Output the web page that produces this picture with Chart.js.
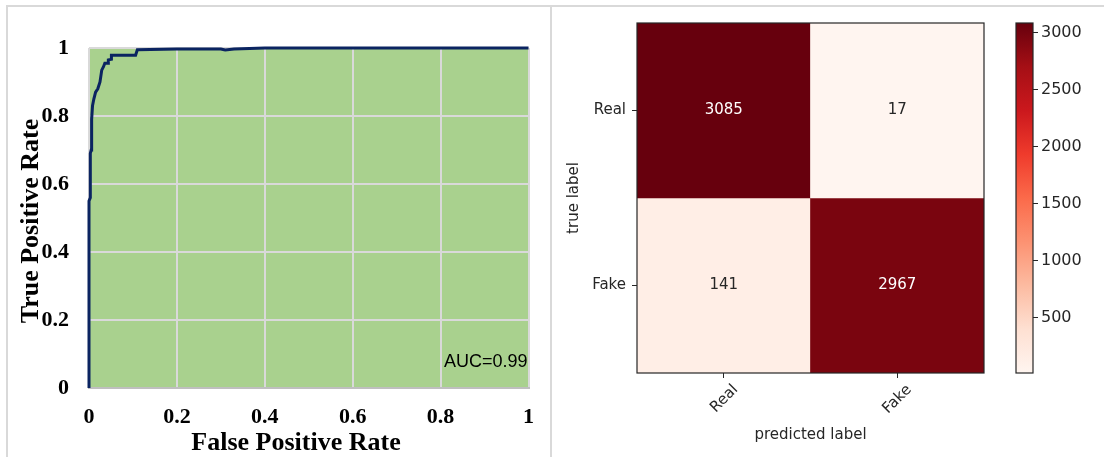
<!DOCTYPE html>
<html>
<head>
<meta charset="utf-8">
<script src="https://cdn.jsdelivr.net/npm/chart.js@4/dist/chart.umd.min.js"></script>
<style>
  html, body { margin: 0; padding: 0; background: #fff; }
  body { width: 1104px; height: 457px; position: relative; overflow: hidden; }
  .box { position: absolute; }
  .rule { position: absolute; background: #d9d9d9; }
</style>
</head>
<body>
<div class="rule" style="left:6px;top:5px;width:1098px;height:2px"></div>
<div class="rule" style="left:6px;top:5px;width:2px;height:452px"></div>
<div class="rule" style="left:550px;top:5px;width:2px;height:452px"></div>
<div class="box" style="left:8px;top:7px;width:542px;height:450px"><canvas id="roc"></canvas></div>
<div class="box" style="left:552px;top:7px;width:448px;height:450px"><canvas id="cm"></canvas></div>
<div class="box" style="left:1000px;top:7px;width:104px;height:450px"><canvas id="cbar"></canvas></div>

<script>
// ROC curve (false positive rate vs true positive rate)
const rocFpr = [0, 0, 0.003, 0.003, 0.005, 0.006, 0.008, 0.011, 0.015, 0.02, 0.025, 0.029, 0.033, 0.036, 0.044, 0.044, 0.051, 0.051, 0.106, 0.11, 0.2, 0.3, 0.31, 0.33, 0.4, 1];
const rocTpr = [0, 0.55, 0.56, 0.69, 0.70, 0.79, 0.83, 0.85, 0.87, 0.88, 0.90, 0.935, 0.945, 0.955, 0.955, 0.965, 0.967, 0.979, 0.979, 0.995, 0.997, 0.997, 0.994, 0.997, 1, 1];
const rocTicks = [0, 0.2, 0.4, 0.6, 0.8, 1];
const rocTickLabels = ['0', '0.2', '0.4', '0.6', '0.8', '1'];
const rocXTitle = 'False Positive Rate';
const rocYTitle = 'True Positive Rate';
const aucText = 'AUC=0.99';

// Confusion matrix: rows = true label, columns = predicted label
const classLabels = ['Real', 'Fake'];
const realRow = [3085, 17];
const fakeRow = [141, 2967];
const colorbarTicks = [500, 1000, 1500, 2000, 2500, 3000];
const cmXTitle = 'predicted label';
const cmYTitle = 'true label';

// matplotlib "Reds" colormap stops
const redsStops = ['#fff5f0', '#fee0d2', '#fcbba1', '#fc9272', '#fb6a4a', '#ef3b2c', '#cb181d', '#a50f15', '#67000d'];

const matrix = [realRow, fakeRow];
const allCounts = matrix.flat();
const vMin = Math.min(...allCounts);
const vMax = Math.max(...allCounts);

function hexToRgb(h) {
  const n = parseInt(h.slice(1), 16);
  return [(n >> 16) & 255, (n >> 8) & 255, n & 255];
}
function redsColor(v) {
  const t = Math.max(0, Math.min(1, (v - vMin) / (vMax - vMin)));
  const pos = t * (redsStops.length - 1);
  const i = Math.min(Math.floor(pos), redsStops.length - 2);
  const f = pos - i;
  const a = hexToRgb(redsStops[i]), b = hexToRgb(redsStops[i + 1]);
  const c = a.map((x, k) => Math.round(x + (b[k] - x) * f));
  return `rgb(${c[0]},${c[1]},${c[2]})`;
}

const common = {
  responsive: true,
  maintainAspectRatio: false,
  animation: false,
  events: [],
};
const noLegend = { legend: { display: false }, tooltip: { enabled: false } };

// ---------- ROC ----------
const serifTick = { family: 'Liberation Serif', size: 22, weight: 'bold' };

const plotFill = {
  id: 'plotFill',
  beforeDraw(chart) {
    const { ctx, chartArea: a } = chart;
    ctx.save();
    ctx.fillStyle = '#a9d18e';
    ctx.fillRect(a.left, a.top, a.right - a.left, a.bottom - a.top);
    ctx.restore();
  }
};

const rocText = {
  id: 'rocText',
  afterDraw(chart) {
    const { ctx, chartArea: a } = chart;
    ctx.save();
    ctx.fillStyle = '#000';
    ctx.font = 'bold 26px "Liberation Serif"';
    ctx.textAlign = 'center';
    ctx.textBaseline = 'alphabetic';
    ctx.fillText(rocXTitle, a.left + 207, a.bottom + 62);
    ctx.translate(30, a.top + 173);
    ctx.rotate(-Math.PI / 2);
    ctx.fillText(rocYTitle, 0, 0);
    ctx.restore();

    ctx.save();
    ctx.fillStyle = '#000';
    ctx.font = '18px "Liberation Sans"';
    ctx.textAlign = 'right';
    ctx.textBaseline = 'alphabetic';
    ctx.fillText(aucText, a.right - 1, a.bottom - 21);
    ctx.restore();
  }
};

new Chart(document.getElementById('roc'), {
  type: 'scatter',
  data: {
    datasets: [{
      data: rocFpr.map((x, i) => ({ x, y: rocTpr[i] })),
      showLine: true,
      borderColor: '#0b2461',
      borderWidth: 3,
      pointRadius: 0,
      tension: 0,
      clip: false,
    }]
  },
  options: {
    ...common,
    layout: { autoPadding: false, padding: { top: 41, right: 20, left: 0, bottom: 0 } },
    plugins: noLegend,
    scales: {
      x: {
        type: 'linear', min: 0, max: 1,
        afterBuildTicks: s => { s.ticks = rocTicks.map(v => ({ value: v })); },
        afterFit: s => { s.height = 69; },
        ticks: {
          callback: (v, i) => rocTickLabels[i],
          font: serifTick, color: '#000', padding: 16, maxRotation: 0, autoSkip: false,
        },
        grid: { color: '#d9d9d9', lineWidth: 2, drawTicks: false },
        border: { color: '#bfbfbf', width: 2 },
      },
      y: {
        type: 'linear', min: 0, max: 1,
        afterBuildTicks: s => { s.ticks = rocTicks.map(v => ({ value: v })); },
        afterFit: s => { s.width = 81; },
        ticks: {
          callback: (v, i) => rocTickLabels[i],
          font: serifTick, color: '#000', padding: 20, autoSkip: false,
        },
        grid: { color: '#d9d9d9', lineWidth: 2, drawTicks: false },
        border: { display: false },
      }
    }
  },
  plugins: [plotFill, rocText]
});

// ---------- Confusion matrix ----------
const mplFont = { family: 'DejaVu Sans', size: 15 };
const cbarFont = { family: 'DejaVu Sans', size: 16 };
const inkColor = '#262626';

const frame = {
  id: 'frame',
  afterDraw(chart) {
    const { ctx, chartArea: a } = chart;
    ctx.save();
    ctx.strokeStyle = inkColor;
    ctx.lineWidth = 1.2;
    ctx.strokeRect(a.left, a.top, a.right - a.left, a.bottom - a.top);
    ctx.restore();
  }
};

const cellText = {
  id: 'cellText',
  afterDatasetsDraw(chart) {
    const { ctx } = chart;
    ctx.save();
    ctx.font = '15px "DejaVu Sans"';
    ctx.textAlign = 'center';
    ctx.textBaseline = 'middle';
    chart.data.datasets.forEach((ds, di) => {
      chart.getDatasetMeta(di).data.forEach((bar, j) => {
        const v = ds.counts[j];
        ctx.fillStyle = v > (vMin + vMax) / 2 ? '#ffffff' : inkColor;
        ctx.fillText(String(v), bar.x, (bar.y + bar.base) / 2);
      });
    });
    ctx.restore();
  }
};

new Chart(document.getElementById('cm'), {
  type: 'bar',
  data: {
    labels: classLabels,
    datasets: matrix.map((row, r) => ({
      label: classLabels[r],
      counts: row,
      data: row.map(() => [r, r + 1]),
      backgroundColor: row.map(v => redsColor(v)),
      borderWidth: 0,
      grouped: false,
      barPercentage: 1,
      categoryPercentage: 1,
    }))
  },
  options: {
    ...common,
    layout: { padding: { top: 16, right: 16, left: 0, bottom: 0 } },
    plugins: noLegend,
    scales: {
      x: {
        type: 'category', offset: true,
        afterFit: s => { s.height = 84; },
        ticks: { font: mplFont, color: inkColor, minRotation: 45, maxRotation: 45, padding: 3, labelOffset: 12 },
        grid: { drawOnChartArea: false, drawTicks: true, tickLength: 5, tickColor: inkColor, offset: false },
        border: { display: false },
        title: { display: true, text: cmXTitle, font: mplFont, color: inkColor, padding: { top: 0, bottom: 13 } },
      },
      y: {
        type: 'linear', reverse: true, min: 0, max: 2,
        afterBuildTicks: s => { s.ticks = classLabels.map((_, i) => ({ value: i + 0.5 })); },
        afterFit: s => { s.width = 85; },
        ticks: { callback: v => classLabels[Math.floor(v)], font: mplFont, color: inkColor, padding: 6 },
        grid: { drawOnChartArea: false, drawTicks: true, tickLength: 5, tickColor: inkColor },
        border: { display: false },
        title: { display: true, text: cmYTitle, font: mplFont, color: inkColor, padding: { top: 13, bottom: 0 } },
      }
    }
  },
  plugins: [cellText, frame]
});

// ---------- Colorbar ----------
new Chart(document.getElementById('cbar'), {
  type: 'bar',
  data: {
    labels: [''],
    datasets: [{
      data: [[vMin, vMax]],
      backgroundColor: ctx => {
        const a = ctx.chart.chartArea;
        if (!a) return null;
        const g = ctx.chart.ctx.createLinearGradient(0, a.bottom, 0, a.top);
        redsStops.forEach((c, i) => g.addColorStop(i / (redsStops.length - 1), c));
        return g;
      },
      borderWidth: 0,
      barPercentage: 1,
      categoryPercentage: 1,
    }]
  },
  options: {
    ...common,
    layout: { padding: { top: 16, right: 0, left: 16, bottom: 84 } },
    plugins: noLegend,
    scales: {
      x: { display: false },
      y: {
        position: 'right', min: vMin, max: vMax,
        afterBuildTicks: s => { s.ticks = colorbarTicks.map(v => ({ value: v })); },
        afterFit: s => { s.width = 71; },
        ticks: { callback: v => String(v), font: cbarFont, color: inkColor, padding: 3 },
        grid: { drawOnChartArea: false, drawTicks: true, tickLength: 5, tickColor: inkColor },
        border: { display: false },
      }
    }
  },
  plugins: [frame]
});
</script>
</body>
</html>
